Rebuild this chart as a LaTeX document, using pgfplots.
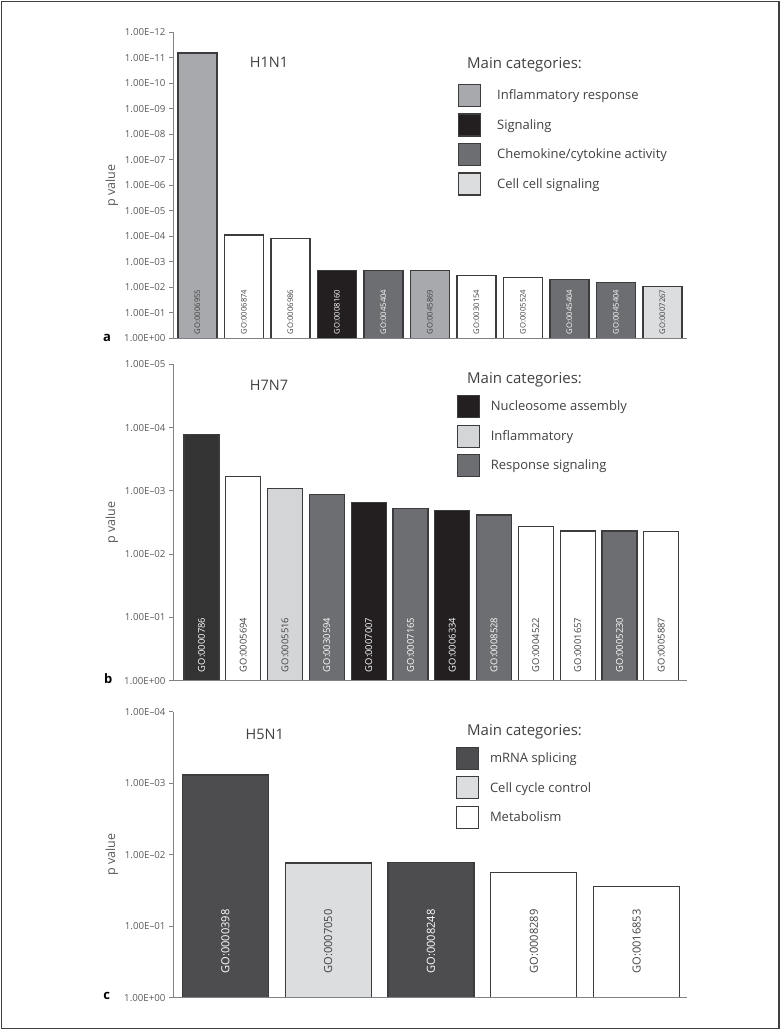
\documentclass[border=0pt]{standalone}
\usepackage{fontspec}
\setmainfont{Open Sans}
\usepackage{pgfplots}
\pgfplotsset{compat=1.18}
\definecolor{infl}{HTML}{A7A9AC}
\definecolor{sig}{HTML}{231F20}
\definecolor{chemo}{HTML}{6D6E71}
\definecolor{cellc}{HTML}{DCDDDE}
\definecolor{edge}{HTML}{3C3C3E}
\definecolor{nucA}{HTML}{333333}
\definecolor{inflB}{HTML}{D4D5D7}
\definecolor{mrna}{HTML}{4D4D4F}
\definecolor{ticktext}{HTML}{58595B}
\definecolor{axgray}{HTML}{808285}
\definecolor{titletext}{HTML}{414042}
\newcommand{\fs}[1]{\fontsize{#1bp}{#1bp}\selectfont}
\newcommand{\wl}[1]{\textcolor{white}{#1}}
\pgfplotsset{
  sqlegend/.style={legend image code/.code={\draw[##1,line width=1.2bp] (0bp,-11bp) rectangle (22bp,11bp);}},
}
\begin{document}
\begin{tikzpicture}
\path[use as bounding box] (0,0) rectangle (783bp,-1030bp);
\draw[line width=1.6bp, color=black!75] (1.5bp,-1.5bp) rectangle (779bp,-1028.5bp);

% ---------------- panel a ----------------
\begin{axis}[scale only axis, width=514bp, axis on top,
    ymode=log, y dir=reverse, log origin y=0,
    ybar,
    axis x line*=bottom, axis y line*=left,
    axis line style={axgray, line width=0.9bp},
    tick align=outside, major tick length=4bp,
    ytick style={axgray, line width=0.9bp},
    xtick style={draw=none},
    yminorticks=false,
    yticklabel style={font=\fs{9.7}, color=ticktext},
    ylabel={p value},
    ylabel style={font=\fs{12.5}, color=ticktext, at={(axis description cs:-0.1187,0.5)}, anchor=center},
    xticklabel style={rotate=90, anchor=west, inner sep=0pt, color=titletext},
    legend cell align=left,
    legend style={draw=none, fill=none, inner sep=0pt, anchor=north west, row sep=6.3bp, font=\fs{13}, text=titletext, nodes={inner sep=2bp}},
    clip=false,
  at={(173bp,-338.3bp)}, anchor=south west, height=306bp,
  xmin=-0.527, xmax=10.527, ymin=1e-12, ymax=1, bar width=39bp,
  ytick={1e-12,1e-11,1e-10,1e-9,1e-8,1e-7,1e-6,1e-5,1e-4,1e-3,1e-2,1e-1,1},
  yticklabels={1.00E–12,1.00E–11,1.00E–10,1.00E–09,1.00E–08,1.00E–07,1.00E–06,1.00E–05,1.00E–04,1.00E–03,1.00E–02,1.00E–01,1.00E+00},
  xtick={0,...,10},
  xticklabels={GO:0006955,GO:0006874,GO:0006986,\wl{GO:0008160},\wl{GO:0045404},GO:0045869,GO:0030154,GO:0005524,\wl{GO:0045404},\wl{GO:0045404},GO:0007267},
  xticklabel style={font=\fs{7.7}, xshift=8bp},
  legend style={at={(axis description cs:0.554,0.832)}, column sep=14bp},
]
\addplot[fill=infl, draw=edge, line width=1.2bp, bar shift=0pt, sqlegend] coordinates {(0,6.5e-12) (5,2.24e-3)};
\addlegendentry{Inflammatory response}
\addplot[fill=sig, draw=edge, line width=1.2bp, bar shift=0pt, sqlegend] coordinates {(3,2.24e-3)};
\addlegendentry{Signaling}
\addplot[fill=chemo, draw=edge, line width=1.2bp, bar shift=0pt, sqlegend] coordinates {(4,2.24e-3) (8,4.9e-3) (9,6.6e-3)};
\addlegendentry{Chemokine/cytokine activity}
\addplot[fill=cellc, draw=edge, line width=1.2bp, bar shift=0pt, sqlegend] coordinates {(10,9.5e-3)};
\addlegendentry{Cell cell signaling}
\addplot[fill=white, draw=edge, line width=1.2bp, bar shift=0pt, forget plot] coordinates {(1,8.9e-5) (2,1.26e-4) (6,3.39e-3) (7,4.07e-3)};
\end{axis}
\node[anchor=base, inner sep=0pt, font=\fs{14.5}, text=titletext] at (269bp,-67.7bp) {H1N1};
\node[anchor=base west, inner sep=0pt, font=\fs{15}, text=titletext] at (467bp,-68.3bp) {Main categories:};
\node[anchor=base, inner sep=0pt, font=\fs{13}\bfseries] at (107bp,-341.7bp) {a};

% ---------------- panel b ----------------
\begin{axis}[scale only axis, width=514bp, axis on top,
    ymode=log, y dir=reverse, log origin y=0,
    ybar,
    axis x line*=bottom, axis y line*=left,
    axis line style={axgray, line width=0.9bp},
    tick align=outside, major tick length=4bp,
    ytick style={axgray, line width=0.9bp},
    xtick style={draw=none},
    yminorticks=false,
    yticklabel style={font=\fs{9.7}, color=ticktext},
    ylabel={p value},
    ylabel style={font=\fs{12.5}, color=ticktext, at={(axis description cs:-0.1187,0.5)}, anchor=center},
    xticklabel style={rotate=90, anchor=west, inner sep=0pt, color=titletext},
    legend cell align=left,
    legend style={draw=none, fill=none, inner sep=0pt, anchor=north west, row sep=6.3bp, font=\fs{13}, text=titletext, nodes={inner sep=2bp}},
    clip=false,
  at={(173bp,-680.7bp)}, anchor=south west, height=316.4bp,
  xmin=-0.682, xmax=11.615, ymin=1e-5, ymax=1, bar width=35bp,
  ytick={1e-5,1e-4,1e-3,1e-2,1e-1,1},
  yticklabels={1.00E–05,1.00E–04,1.00E–03,1.00E–02,1.00E–01,1.00E+00},
  xtick={0,...,11},
  xticklabels={\wl{GO:0000786},GO:0005694,GO:0005516,\wl{GO:0030594},\wl{GO:0007007},\wl{GO:0007165},\wl{GO:0006334},\wl{GO:0008528},GO:0004522,GO:0001657,\wl{GO:0005230},GO:0005887},
  xticklabel style={font=\fs{9.4}, xshift=12.4bp},
  legend style={at={(axis description cs:0.552,0.903)}, column sep=8.7bp},
]
\addplot[fill=sig, draw=edge, line width=1.2bp, bar shift=0pt, sqlegend] coordinates {(4,1.52e-3) (6,2.05e-3)};
\addlegendentry{Nucleosome assembly}
\addplot[fill=inflB, draw=edge, line width=1.2bp, bar shift=0pt, sqlegend] coordinates {(2,9.2e-4)};
\addlegendentry{Inflammatory}
\addplot[fill=chemo, draw=edge, line width=1.2bp, bar shift=0pt, sqlegend] coordinates {(3,1.13e-3) (5,1.9e-3) (7,2.4e-3) (10,4.3e-3)};
\addlegendentry{Response signaling}
\addplot[fill=nucA, draw=edge, line width=1.2bp, bar shift=0pt, forget plot] coordinates {(0,1.3e-4)};
\addplot[fill=white, draw=edge, line width=1.2bp, bar shift=0pt, forget plot] coordinates {(1,5.9e-4) (8,3.7e-3) (9,4.3e-3) (11,4.4e-3)};
\end{axis}
\node[anchor=base, inner sep=0pt, font=\fs{14.5}, text=titletext] at (269bp,-390.3bp) {H7N7};
\node[anchor=base west, inner sep=0pt, font=\fs{15}, text=titletext] at (467bp,-383.3bp) {Main categories:};
\node[anchor=base, inner sep=0pt, font=\fs{13}\bfseries] at (108.3bp,-683.3bp) {b};

% ---------------- panel c ----------------
\begin{axis}[scale only axis, width=514bp, axis on top,
    ymode=log, y dir=reverse, log origin y=0,
    ybar,
    axis x line*=bottom, axis y line*=left,
    axis line style={axgray, line width=0.9bp},
    tick align=outside, major tick length=4bp,
    ytick style={axgray, line width=0.9bp},
    xtick style={draw=none},
    yminorticks=false,
    yticklabel style={font=\fs{9.7}, color=ticktext},
    ylabel={p value},
    ylabel style={font=\fs{12.5}, color=ticktext, at={(axis description cs:-0.1187,0.5)}, anchor=center},
    xticklabel style={rotate=90, anchor=west, inner sep=0pt, color=titletext},
    legend cell align=left,
    legend style={draw=none, fill=none, inner sep=0pt, anchor=north west, row sep=6.3bp, font=\fs{13}, text=titletext, nodes={inner sep=2bp}},
    clip=false,
  at={(173bp,-997.7bp)}, anchor=south west, height=286bp,
  xmin=-0.51, xmax=4.49, ymin=1e-4, ymax=1, bar width=86bp,
  ytick={1e-4,1e-3,1e-2,1e-1,1},
  yticklabels={1.00E–04,1.00E–03,1.00E–02,1.00E–01,1.00E+00},
  xtick={0,...,4},
  xticklabels={\wl{GO:0000398},GO:0007050,\wl{GO:0008248},GO:0008289,GO:0016853},
  xticklabel style={font=\fs{11.1}, xshift=28bp},
  legend style={at={(axis description cs:0.5506,0.878)}, column sep=8.6bp},
]
\addplot[fill=mrna, draw=edge, line width=1.2bp, bar shift=0pt, sqlegend] coordinates {(0,7.7e-4) (2,1.29e-2)};
\addlegendentry{mRNA splicing}
\addplot[fill=cellc, draw=edge, line width=1.2bp, bar shift=0pt, sqlegend] coordinates {(1,1.31e-2)};
\addlegendentry{Cell cycle control}
\addplot[fill=white, draw=edge, line width=1.2bp, bar shift=0pt, sqlegend] coordinates {(3,1.77e-2) (4,2.75e-2)};
\addlegendentry{Metabolism}
\end{axis}
\node[anchor=base, inner sep=0pt, font=\fs{14.5}, text=titletext] at (264.7bp,-739.3bp) {H5N1};
\node[anchor=base west, inner sep=0pt, font=\fs{15}, text=titletext] at (467bp,-735bp) {Main categories:};
\node[anchor=base, inner sep=0pt, font=\fs{13}\bfseries] at (106.7bp,-999.3bp) {c};
\end{tikzpicture}
\end{document}
